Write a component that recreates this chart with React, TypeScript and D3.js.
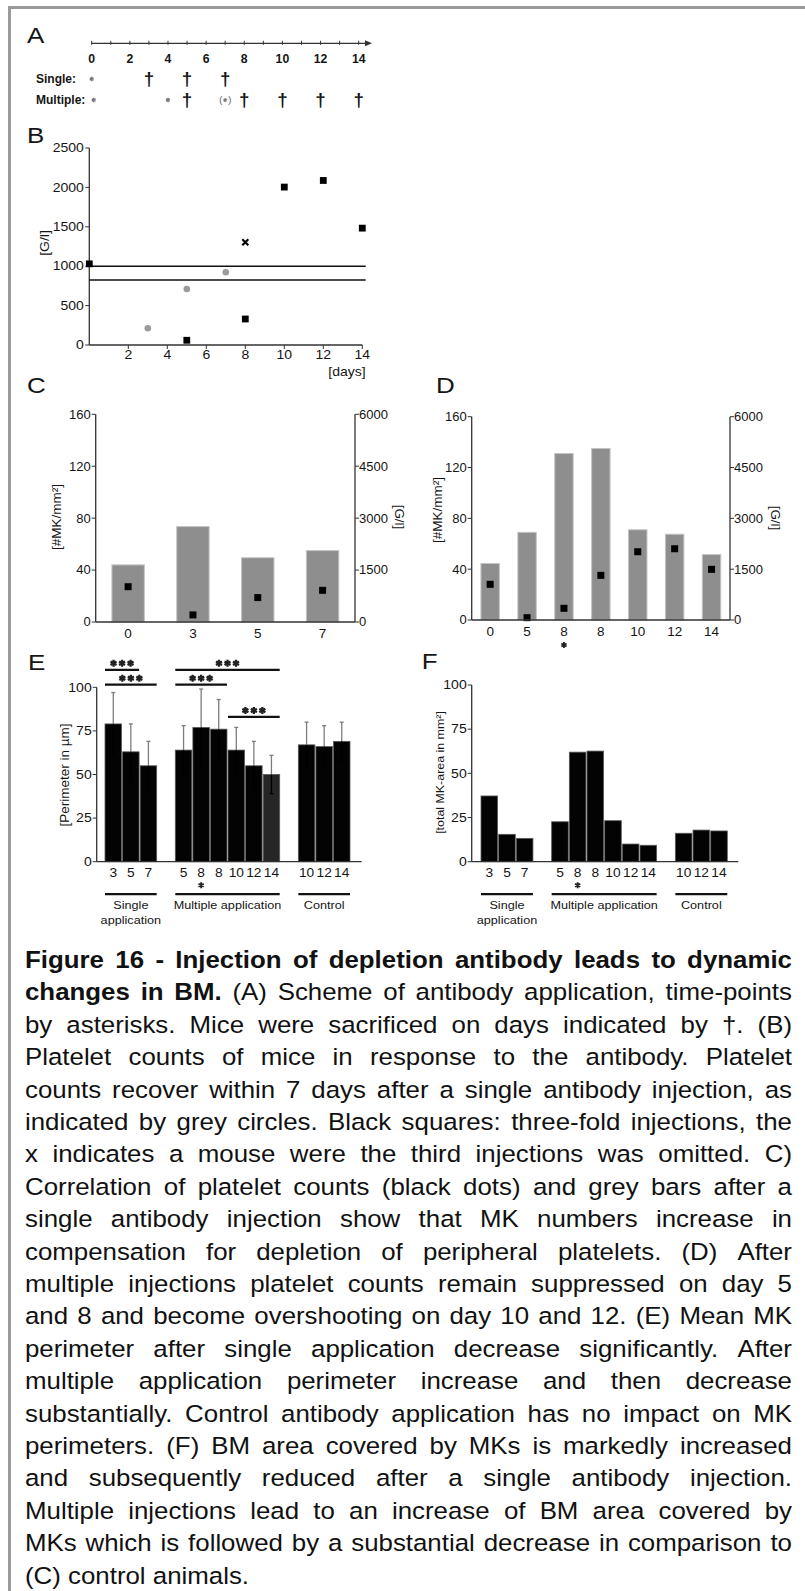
import { useMemo } from 'react';
import * as d3 from 'd3';

const FONT = '"Liberation Sans", Arial, Helvetica, sans-serif';
const INK = '#151515';
const AXIS = '#333';
const SX = 1.12;

// A: application scheme
const schemeTicks = [0, 1, 2, 3, 4, 5, 6, 7, 8, 9, 10, 11, 12, 13, 14];
const schemeLabels = [0, 2, 4, 6, 8, 10, 12, 14];
const singleInjectionDays = [0];
const singleSacrificeDays = [3, 5, 7];
const multipleInjectionDays = [0, 4];
const multipleOptionalDays = [7];
const multipleSacrificeDays = [5, 8, 10, 12, 14];

// B: platelet counts [G/l]
const bTicksY = [0, 500, 1000, 1500, 2000, 2500];
const bTicksX = [2, 4, 6, 8, 10, 12, 14];
const singleDays = [3, 5, 7];
const singleCounts = [212, 711, 924];
const multipleDays = [0, 5, 8, 10, 12, 14];
const multipleCounts = [1030, 60, 330, 2004, 2088, 1483];
const omittedDays = [8];
const omittedCounts = [1305];
const normalRange = [1000, 825];

// C / D: MK numbers and platelet counts
const mkTicks = [0, 40, 80, 120, 160];
const glTicks = [0, 1500, 3000, 4500, 6000];
const cDays = ['0', '3', '5', '7'];
const cMK = [44, 73.5, 49.5, 55];
const cCounts = [1020, 205, 705, 915];
const dDays = ['0', '5', '8*', '8', '10', '12', '14'];
const dMK = [44.5, 69, 131, 135, 71, 67.5, 51.5];
const dCounts = [1053, 68, 345, 1318, 2015, 2103, 1495];

// E / F: perimeter and MK area
const efDays = ['3', '5', '7', '5', '8*', '8', '10', '12', '14', '10', '12', '14'];
const efGroups = ['single', 'single', 'single', 'multiple', 'multiple', 'multiple', 'multiple', 'multiple', 'multiple', 'control', 'control', 'control'];
const groupKeys = ['single', 'multiple', 'control'];
const groupLabels = [['Single', 'application'], ['Multiple application'], ['Control']];
const efTicks = [0, 25, 50, 75, 100];
const eMean = [79, 63, 55, 64, 77, 76, 64, 55, 50, 67, 66, 69];
const eSD = [18, 16, 14, 14, 22, 17, 13, 14, 11, 13, 12, 11];
const eSigFrom = [0, 0, 3, 3, 6];
const eSigTo = [1, 2, 8, 5, 8];
const eSigLevel = [110, 101.5, 110, 101.5, 83];
const fArea = [37.2, 15.5, 13.2, 22.6, 62, 62.6, 23.2, 10, 9.3, 16.1, 17.9, 17.4];

// caption
const captionLines = [
  'Figure 16 - Injection of depletion antibody leads to dynamic',
  'changes in BM. (A) Scheme of antibody application, time-points',
  'by asterisks. Mice were sacrificed on days indicated by †. (B)',
  'Platelet counts of mice in response to the antibody. Platelet',
  'counts recover within 7 days after a single antibody injection, as',
  'indicated by grey circles. Black squares: three-fold injections, the',
  'x indicates a mouse were the third injections was omitted. C)',
  'Correlation of platelet counts (black dots) and grey bars after a',
  'single antibody injection show that MK numbers increase in',
  'compensation for depletion of peripheral platelets. (D) After',
  'multiple injections platelet counts remain suppressed on day 5',
  'and 8 and become overshooting on day 10 and 12. (E) Mean MK',
  'perimeter after single application decrease significantly. After',
  'multiple application perimeter increase and then decrease',
  'substantially. Control antibody application has no impact on MK',
  'perimeters. (F) BM area covered by MKs is markedly increased',
  'and subsequently reduced after a single antibody injection.',
  'Multiple injections lead to an increase of BM area covered by',
  'MKs which is followed by a substantial decrease in comparison to',
  '(C) control animals.',
];
const captionBoldWords = [10, 3];

const CAP_X = 25;
const CAP_W = 767;
const CAP_Y0 = 968;
const CAP_LH = 32.4;
const CAP_SIZE = 23.5;
const CAP_SX = 1.1;

type TxtProps = {
  x: number;
  y: number;
  size: number;
  children: React.ReactNode;
  anchor?: 'start' | 'middle' | 'end';
  weight?: number;
  rotate?: number;
  sx?: number;
  fill?: string;
};

const Txt = ({ x, y, size, children, anchor = 'start', weight = 400, rotate = 0, sx = SX, fill = INK }: TxtProps) => (
  <text
    transform={`translate(${x},${y}) rotate(${rotate}) scale(${sx},1)`}
    fontSize={size}
    fontWeight={weight}
    textAnchor={anchor}
    dominantBaseline="central"
    fill={fill}
  >
    {children}
  </text>
);

const starPath = (size: number) => d3.symbol(d3.symbolAsterisk, size)() ?? '';

const Star = ({ x, y, size = 26, color = '#222', width = 1.6 }: { x: number; y: number; size?: number; color?: string; width?: number }) => (
  <path d={starPath(size)} transform={`translate(${x},${y})`} stroke={color} strokeWidth={width} fill="none" />
);

const PanelA = () => {
  const x = d3.scaleLinear().domain([0, 14]).range([91.7, 358.7]);
  const y0 = 43.3;
  const ySingle = 79;
  const yMulti = 100;
  const dagger = (d: number, y: number) => (
    <Txt key={`${d}-${y}`} x={x(d)} y={y} size={18} weight={700} anchor="middle" sx={1.05}>†</Txt>
  );
  return (
    <g>
      <Txt x={27} y={35} size={22} sx={1.18}>A</Txt>
      <line x1={x(0)} x2={368} y1={y0} y2={y0} stroke={AXIS} strokeWidth={1.3} />
      <path d={`M365,${y0 - 3}L372,${y0}L365,${y0 + 3}Z`} fill={AXIS} />
      {schemeTicks.map((d) => (
        <line key={d} x1={x(d)} x2={x(d)} y1={y0 - 2.5} y2={y0 + 1.5} stroke={AXIS} strokeWidth={1} />
      ))}
      {schemeLabels.map((d) => (
        <Txt key={d} x={x(d)} y={59} size={12} weight={700} anchor="middle" sx={1.02}>{d}</Txt>
      ))}
      <Txt x={36} y={ySingle} size={12} weight={700} sx={1.0}>Single:</Txt>
      <Txt x={36} y={yMulti} size={12} weight={700} sx={1.0}>Multiple:</Txt>
      {singleInjectionDays.map((d) => <Star key={d} x={x(d)} y={ySingle} size={14} color="#777" width={1.4} />)}
      {singleSacrificeDays.map((d) => dagger(d, ySingle))}
      {multipleInjectionDays.map((d) => <Star key={d} x={x(d) + (d === 0 ? 2 : 0)} y={yMulti} size={14} color="#777" width={1.4} />)}
      {multipleOptionalDays.map((d) => (
        <g key={d}>
          <Star x={x(d)} y={yMulti} size={11} color="#777" width={1.2} />
          <Txt x={x(d) - 4.5} y={yMulti} size={9} anchor="middle" sx={1} fill="#555">(</Txt>
          <Txt x={x(d) + 4.5} y={yMulti} size={9} anchor="middle" sx={1} fill="#555">)</Txt>
        </g>
      ))}
      {multipleSacrificeDays.map((d) => dagger(d, yMulti))}
    </g>
  );
};

const PanelB = () => {
  const x = d3.scaleLinear().domain([0, 14]).range([89.3, 362.3]);
  const y = d3.scaleLinear().domain([0, 2500]).range([345, 148]);
  return (
    <g>
      <Txt x={27} y={135} size={22} sx={1.18}>B</Txt>
      <line x1={x(0)} x2={x(0)} y1={y(0)} y2={y(2500)} stroke={AXIS} strokeWidth={1.3} />
      <line x1={x(0)} x2={x(14)} y1={y(0)} y2={y(0)} stroke={AXIS} strokeWidth={1.3} />
      {bTicksY.map((t) => (
        <g key={t}>
          <line x1={x(0) - 4} x2={x(0)} y1={y(t)} y2={y(t)} stroke={AXIS} />
          <Txt x={x(0) - 5.5} y={y(t)} size={12.5} anchor="end">{t}</Txt>
        </g>
      ))}
      {bTicksX.map((t) => (
        <g key={t}>
          <line x1={x(t)} x2={x(t)} y1={y(0)} y2={y(0) + 4} stroke={AXIS} />
          <Txt x={x(t)} y={y(0) + 10} size={12.5} anchor="middle">{t}</Txt>
        </g>
      ))}
      <Txt x={347} y={372} size={12.5} anchor="middle">[days]</Txt>
      <Txt x={45} y={243} size={12.5} anchor="middle" rotate={-90}>[G/l]</Txt>
      {normalRange.map((v) => (
        <line key={v} x1={x(0)} x2={365.7} y1={y(v)} y2={y(v)} stroke="#111" strokeWidth={1.6} />
      ))}
      {singleDays.map((d, i) => (
        <circle key={d} cx={x(d)} cy={y(singleCounts[i])} r={3.3} fill="#9b9b9b" />
      ))}
      {multipleDays.map((d, i) => (
        <rect key={d} x={x(d) - 3.4} y={y(multipleCounts[i]) - 3.4} width={6.8} height={6.8} fill="#000" />
      ))}
      {omittedDays.map((d, i) => {
        const cx = x(d);
        const cy = y(omittedCounts[i]);
        return (
          <path key={d} d={`M${cx - 3},${cy - 3}L${cx + 3},${cy + 3}M${cx - 3},${cy + 3}L${cx + 3},${cy - 3}`} stroke="#000" strokeWidth={2.1} />
        );
      })}
    </g>
  );
};

type DualProps = {
  letter: string;
  letterX: number;
  days: string[];
  mk: number[];
  counts: number[];
  left: number;
  right: number;
  bottom: number;
  top: number;
  leftLabelX: number;
  leftLabelY: number;
  rightLabelX: number;
  rightLabelY: number;
};

const DualPanel = ({ letter, letterX, days, mk, counts, left, right, bottom, top, leftLabelX, leftLabelY, rightLabelX, rightLabelY }: DualProps) => {
  const x = d3.scaleBand<string>().domain(days).range([left, right]).paddingInner(0.5).paddingOuter(0.25);
  const yMK = d3.scaleLinear().domain([0, 160]).range([bottom, top]);
  const yGL = d3.scaleLinear().domain([0, 6000]).range([bottom, top]);
  const bw = x.bandwidth();
  return (
    <g>
      <Txt x={letterX} y={385.5} size={22} sx={1.18}>{letter}</Txt>
      {days.map((d, i) => (
        <rect key={d} x={x(d)} y={yMK(mk[i])} width={bw} height={bottom - yMK(mk[i])} fill="#8e8e8e" stroke="#c4c4c4" strokeWidth={1} />
      ))}
      {days.map((d, i) => (
        <rect key={d} x={(x(d) ?? 0) + bw / 2 - 3.5} y={yGL(counts[i]) - 3.5} width={7} height={7} fill="#000" />
      ))}
      <line x1={left} x2={left} y1={bottom} y2={top} stroke={AXIS} strokeWidth={1.3} />
      <line x1={right} x2={right} y1={bottom} y2={top} stroke={AXIS} strokeWidth={1.3} />
      <line x1={left} x2={right} y1={bottom} y2={bottom} stroke={AXIS} strokeWidth={1.3} />
      {mkTicks.map((t) => (
        <g key={t}>
          <line x1={left - 4} x2={left} y1={yMK(t)} y2={yMK(t)} stroke={AXIS} />
          <Txt x={left - 5} y={yMK(t)} size={12.5} anchor="end" sx={1.04}>{t}</Txt>
        </g>
      ))}
      {glTicks.map((t) => (
        <g key={t}>
          <line x1={right} x2={right + 4} y1={yGL(t)} y2={yGL(t)} stroke={AXIS} />
          <Txt x={right + 4} y={yGL(t)} size={12.5} sx={1.04}>{t}</Txt>
        </g>
      ))}
      {days.map((d) => {
        const cx = (x(d) ?? 0) + bw / 2;
        return (
          <g key={d}>
            <Txt x={cx} y={bottom + 11.5} size={13} anchor="middle" sx={1.04}>{d.replace('*', '')}</Txt>
            {d.includes('*') && <Star x={cx} y={bottom + 25} size={26} width={1.8} />}
          </g>
        );
      })}
      <Txt x={leftLabelX} y={leftLabelY} size={12.5} anchor="middle" rotate={-90} sx={1.08}>[#MK/mm²]</Txt>
      <Txt x={rightLabelX} y={rightLabelY} size={12.5} anchor="middle" rotate={90} sx={1.08}>[G/l]</Txt>
    </g>
  );
};

type GroupProps = {
  letter: string;
  letterX: number;
  letterY: number;
  values: number[];
  sd?: number[];
  axisX: number;
  axisEnd: number;
  barLeft: number;
  barRight: number;
  bottom: number;
  top: number;
  yLabel: string;
  yLabelX: number;
  yLabelY: number;
  yLabelSize: number;
  darkIndex?: number;
  sig?: boolean;
};

const GroupPanel = ({ letter, letterX, letterY, values, sd, axisX, axisEnd, barLeft, barRight, bottom, top, yLabel, yLabelX, yLabelY, yLabelSize, darkIndex, sig }: GroupProps) => {
  // bar slots with one empty slot between groups
  const keys: string[] = [];
  efDays.forEach((_, i) => {
    if (i > 0 && efGroups[i] !== efGroups[i - 1]) keys.push(`gap${i}`);
    keys.push(`bar${i}`);
  });
  const x = d3.scaleBand<string>().domain(keys).range([barLeft, barRight]).paddingInner(0.06);
  const y = d3.scaleLinear().domain([0, 100]).range([bottom, top]);
  const bw = x.bandwidth();
  const bx = (i: number) => x(`bar${i}`) ?? 0;
  return (
    <g>
      <Txt x={letterX} y={letterY} size={22} sx={1.18}>{letter}</Txt>
      {values.map((v, i) => (
        <rect key={i} x={bx(i)} y={y(v)} width={bw} height={bottom - y(v)} fill={i === darkIndex ? '#262626' : '#030303'} stroke="#5a5a5a" strokeWidth={0.8} />
      ))}
      {sd &&
        values.map((v, i) => {
          const cx = bx(i) + bw / 2;
          return (
            <g key={i}>
              <line x1={cx} x2={cx} y1={y(v)} y2={y(v + sd[i])} stroke="#7d7d7d" strokeWidth={1.3} />
              <line x1={cx - 2} x2={cx + 2} y1={y(v + sd[i])} y2={y(v + sd[i])} stroke="#7d7d7d" strokeWidth={1.3} />
              <line x1={cx} x2={cx} y1={y(v)} y2={y(v - sd[i])} stroke="#000" strokeWidth={1.3} />
              <line x1={cx - 2} x2={cx + 2} y1={y(v - sd[i])} y2={y(v - sd[i])} stroke="#000" strokeWidth={1.3} />
            </g>
          );
        })}
      {sig &&
        eSigFrom.map((f, k) => {
          const x1 = bx(f);
          const x2 = bx(eSigTo[k]) + bw;
          const ly = y(eSigLevel[k]);
          const cx = (x1 + x2) / 2;
          return (
            <g key={k}>
              <line x1={x1} x2={x2} y1={ly} y2={ly} stroke="#111" strokeWidth={2.2} />
              {[-8.5, 0, 8.5].map((o) => (
                <Star key={o} x={cx + o} y={ly - 6.5} size={34} width={2.3} color="#222" />
              ))}
            </g>
          );
        })}
      <line x1={axisX} x2={axisX} y1={bottom} y2={top} stroke={AXIS} strokeWidth={1.3} />
      <line x1={axisX} x2={axisEnd} y1={bottom} y2={bottom} stroke={AXIS} strokeWidth={1.3} />
      {efTicks.map((t) => (
        <g key={t}>
          <line x1={axisX - 4} x2={axisX} y1={y(t)} y2={y(t)} stroke={AXIS} />
          <Txt x={axisX - 5} y={y(t)} size={13} anchor="end" sx={1.08}>{t}</Txt>
        </g>
      ))}
      {efDays.map((d, i) => {
        const cx = bx(i) + bw / 2;
        return (
          <g key={i}>
            <Txt x={cx} y={bottom + 10.5} size={13.5} anchor="middle" sx={1.02}>{d.replace('*', '')}</Txt>
            {d.includes('*') && <Star x={cx} y={bottom + 23.5} size={26} width={1.8} />}
          </g>
        );
      })}
      {groupKeys.map((g, gi) => {
        const idx = efGroups.map((eg, i) => (eg === g ? i : -1)).filter((i) => i >= 0);
        const x1 = bx(idx[0]);
        const x2 = bx(idx[idx.length - 1]) + bw;
        return (
          <g key={g}>
            <line x1={x1} x2={x2} y1={bottom + 32.5} y2={bottom + 32.5} stroke="#111" strokeWidth={2.3} />
            {groupLabels[gi].map((l, li) => (
              <Txt key={l} x={(x1 + x2) / 2} y={bottom + 43.5 + li * 14.5} size={11.5} anchor="middle" sx={1.1}>{l}</Txt>
            ))}
          </g>
        );
      })}
      <Txt x={yLabelX} y={yLabelY} size={yLabelSize} anchor="middle" rotate={-90} sx={1.08}>{yLabel}</Txt>
    </g>
  );
};

const Caption = () => {
  const lines = useMemo(() => {
    const ctx = document.createElement('canvas').getContext('2d');
    const measure = (s: string, bold: boolean) => {
      if (!ctx) return s.length * CAP_SIZE * 0.5 * CAP_SX;
      ctx.font = `${bold ? 'bold ' : ''}${CAP_SIZE}px "Liberation Sans"`;
      return ctx.measureText(s).width * CAP_SX;
    };
    return captionLines.map((line, li) => {
      const words = line.split(' ');
      const nBold = captionBoldWords[li] ?? 0;
      const widths = words.map((w, wi) => measure(w, wi < nBold));
      const total = d3.sum(widths);
      const space = measure(' ', false);
      const last = li === captionLines.length - 1;
      let gap = space;
      let f = 1;
      if (!last) {
        const natural = total + space * (words.length - 1);
        if (natural > CAP_W) {
          f = CAP_W / natural;
        } else {
          gap = (CAP_W - total) / (words.length - 1);
        }
      }
      let cursor = CAP_X;
      return words.map((w, wi) => {
        const item = { text: w, x: cursor, bold: wi < nBold, f };
        cursor += widths[wi] * f + gap * f;
        return item;
      });
    });
  }, []);
  return (
    <g>
      {lines.map((words, li) =>
        words.map((w, wi) => (
          <text
            key={`${li}-${wi}`}
            transform={`translate(${w.x},${CAP_Y0 + li * CAP_LH}) scale(${CAP_SX * w.f},1)`}
            fontSize={CAP_SIZE}
            fontWeight={w.bold ? 700 : 400}
            fill="#111"
          >
            {w.text}
          </text>
        )),
      )}
    </g>
  );
};

export default function App() {
  return (
    <svg
      width={805}
      height={1591}
      fontFamily={FONT}
      style={{ position: 'absolute', left: 0, top: 0, display: 'block', background: '#fff' }}
    >
      <rect width={805} height={1591} fill="#fff" />
      <rect x={8} y={6} width={797} height={3} fill="#9a9a9a" />
      <rect x={8} y={6} width={3} height={1585} fill="#9a9a9a" />
      <PanelA />
      <PanelB />
      <DualPanel
        letter="C"
        letterX={27}
        days={cDays}
        mk={cMK}
        counts={cCounts}
        left={95.7}
        right={355}
        bottom={622}
        top={414.3}
        leftLabelX={56.7}
        leftLabelY={517}
        rightLabelX={399}
        rightLabelY={517}
      />
      <DualPanel
        letter="D"
        letterX={436}
        days={dDays}
        mk={dMK}
        counts={dCounts}
        left={471.7}
        right={730}
        bottom={620}
        top={416.7}
        leftLabelX={438}
        leftLabelY={510}
        rightLabelX={775}
        rightLabelY={518}
      />
      <GroupPanel
        letter="E"
        letterX={28}
        letterY={662.5}
        values={eMean}
        sd={eSD}
        axisX={96.7}
        axisEnd={361.7}
        barLeft={105}
        barRight={350}
        bottom={861.7}
        top={687.3}
        yLabel="[Perimeter in µm]"
        yLabelX={65}
        yLabelY={775}
        yLabelSize={12.5}
        darkIndex={8}
        sig
      />
      <GroupPanel
        letter="F"
        letterX={421.7}
        letterY={661.5}
        values={fArea}
        axisX={471.7}
        axisEnd={738.3}
        barLeft={481}
        barRight={727.3}
        bottom={861.7}
        top={685}
        yLabel="[total MK-area in mm²]"
        yLabelX={440}
        yLabelY={772.5}
        yLabelSize={11.5}
      />
      <Caption />
    </svg>
  );
}
